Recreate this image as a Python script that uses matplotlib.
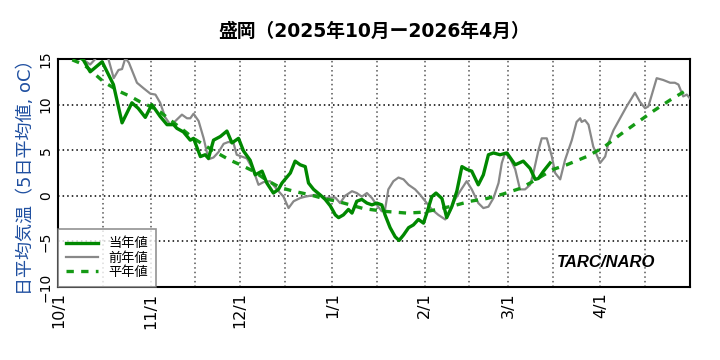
#盛岡の日平均気温(5日移動平均)の推移グラフ
#
import numpy as np
import matplotlib
matplotlib.use('Agg')
import matplotlib.pyplot as plt

plt.rcParams['font.family'] = ['DejaVu Sans', 'Noto Sans CJK JP']

#x軸は10/1からの日数
month_labels = ['10/1', '11/1', '12/1', '1/1', '2/1', '3/1', '4/1']
month_days = [0, 31, 61, 92, 123, 151, 182]
mid_days = [15, 46, 76, 107, 138, 166, 197]

#当年値(2025-2026)
cur_day = [0, 2, 4, 6, 8.4, 10.7, 14.7, 18.5, 21.4, 24.7, 26.8, 29.2, 31.4, 34.2, 36.5,
           38.7, 39.8, 42.0, 44.3, 45.4, 47.7, 49.3, 50.4, 52.1, 54.4, 56.6, 58.3, 60.5,
           62.2, 64.4, 66.1, 68.4, 70.0, 72.2, 73.9, 75.1, 77.9, 79.5, 81.2, 82.9, 84.0,
           85.7, 87.9, 89.6, 91.3, 93.0, 94.1, 95.7, 97.4, 98.6, 100.2, 101.9, 103.6, 105.3,
           106.9, 108.6, 109.7, 111.4, 113.1, 114.4, 115.9, 117.6, 119.2, 120.9, 122.6,
           123.7, 125.4, 126.8, 128.8, 130.4, 132.1, 133.8, 135.5, 137.1, 138.8, 141.0,
           142.7, 144.4, 146.1, 148.3, 150.6, 153.4, 156.1, 158.4, 160.1, 161.2, 162.9, 165.1]
cur_val = [17.0, 16.5, 16.0, 15.5, 14.9, 13.6, 14.7, 12.2, 8.0, 10.2, 9.6, 8.6, 10.0, 8.7, 7.8,
           7.8, 7.4, 7.0, 6.1, 6.3, 4.3, 4.5, 4.1, 6.1, 6.5, 7.1, 5.8, 6.3,
           4.9, 3.9, 2.3, 2.7, 1.4, 0.3, 0.7, 1.4, 2.5, 3.8, 3.4, 3.2, 1.4,
           0.7, 0.1, -0.4, -1.1, -2.1, -2.4, -2.1, -1.5, -1.9, -0.6, -0.4, -0.8, -1.0,
           -0.8, -1.0, -2.1, -3.5, -4.5, -4.9, -4.3, -3.5, -3.2, -2.6, -3.0,
           -1.9, -0.1, 0.3, -0.3, -2.4, -1.2, 0.5, 3.2, 2.9, 2.7, 1.2,
           2.3, 4.5, 4.7, 4.5, 4.7, 3.4, 3.8, 3.0, 1.8, 1.9, 2.7, 3.6]

#前年値(2024-2025)
prev_day = [0, 6.7, 8.5, 10.7, 12.4, 14.1, 16.4, 18.6, 20.2, 21.4, 22.5, 23.7, 26.4, 28.6,
            30.9, 32.6, 34.2, 35.9, 37.6, 39.3, 41.5, 43.2, 44.3, 45.4, 47.1, 48.8, 50.4,
            52.1, 53.8, 55.5, 57.1, 58.8, 59.9, 61.6, 63.3, 65.5, 67.2, 68.9, 71.1, 73.4,
            75.6, 77.3, 79.0, 81.2, 82.9, 86.2, 87.9, 89.6, 91.3, 93.0, 94.6, 96.3, 98.6,
            100.2, 101.9, 103.6, 105.3, 106.9, 108.6, 109.7, 110.8, 112.5, 114.2, 115.9,
            117.6, 119.8, 121.5, 123.2, 125.4, 127.6, 129.9, 131.5, 133.2, 134.9, 137.1,
            138.8, 141.0, 142.7, 144.4, 146.1, 147.8, 148.9, 150.0, 151.7, 153.4, 155.0,
            156.7, 158.4, 159.5, 161.2, 162.3, 164.0, 165.7, 166.8, 168.5, 170.1, 172.4,
            174.0, 175.2, 175.7, 176.8, 178.0, 179.6, 181.9, 183.6, 184.7, 186.4, 188.6,
            190.8, 193.6, 195.3, 197.0, 198.1, 200.9, 203.1, 205.4, 207.0, 208.2, 209.8,
            211.0, 212.0]
prev_val = [16.5, 15.2, 14.9, 14.4, 15.0, 16.0, 15.5, 12.9, 13.8, 13.9, 15.1, 14.6, 12.4, 11.8,
            11.2, 11.1, 10.2, 8.6, 7.8, 8.2, 8.9, 8.5, 8.5, 9.0, 8.2, 6.3, 4.0,
            4.2, 4.8, 5.7, 5.9, 5.8, 4.5, 4.3, 4.1, 2.8, 1.2, 1.5, 1.6, 0.7,
            -0.1, -1.35, -0.6, -0.25, -0.1, 0.1, 0.1, -0.25, -0.2, -0.2, -0.8, 0.0, 0.5,
            0.3, -0.1, 0.3, -0.25, -1.0, -1.7, -1.5, 0.7, 1.6, 2.0, 1.8,
            1.2, 0.7, 0.1, -0.6, -1.5, -2.1, -2.6, -1.7, -0.4, 0.5, 1.6,
            0.7, -0.8, -1.35, -1.2, -0.25, 1.4, 3.6, 4.7, 4.1, 2.9, 0.7,
            0.7, 1.2, 2.5, 5.0, 6.3, 6.3, 4.3, 2.5, 1.8, 3.9, 6.1,
            8.1, 8.5, 8.1, 8.3, 7.8, 5.4, 3.6, 4.3, 5.8, 7.2, 8.5,
            9.8, 11.3, 10.3, 9.6, 9.8, 12.9, 12.7, 12.4, 12.4, 12.2, 10.9,
            11.1, 10.7]

#平年値
norm_day = [0, 4.0, 8.5, 10.7, 15.2, 20.8, 24.2, 27.5, 30.9, 34.2, 37.6, 42.0, 45.4, 48.8,
            53.3, 57.7, 61.1, 65.5, 70.0, 74.5, 79.0, 84.6, 89.0, 93.5, 96.9, 102.4, 109.2,
            117.0, 122.6, 127.1, 132.7, 138.3, 143.9, 149.4, 155.0, 158.4, 166.2, 170.7,
            177.4, 183.0, 188.6, 194.2, 199.8, 205.4, 212.0]
norm_val = [15.4, 15.0, 14.4, 13.8, 12.5, 11.4, 10.9, 10.3, 9.8, 9.2, 8.3, 7.2, 6.3, 5.6,
            4.7, 3.9, 3.4, 2.7, 1.7, 0.9, 0.5, 0.1, -0.3, -0.6, -0.9, -1.4, -1.7,
            -1.9, -1.8, -1.5, -1.1, -0.6, -0.3, 0.2, 0.8, 1.4, 2.9, 3.4,
            4.3, 5.3, 6.7, 8.0, 9.3, 10.5, 11.8]

fig = plt.figure(figsize=(7.2, 3.6), dpi=100)
ax = fig.add_axes([0.081, 0.203, 0.877, 0.633])

ax.plot(cur_day, cur_val, color='#008800', lw=2.4, label='当年値', zorder=4)
ax.plot(prev_day, prev_val, color='#888888', lw=1.6, label='前年値', zorder=3)
ax.plot(norm_day, norm_val, color='#159a15', lw=2.4, ls=(0, (2.2, 2.2)), label='平年値', zorder=3)

ax.set_xlim(0, 212)
ax.set_ylim(-10, 15)
ax.set_yticks([-10, -5, 0, 5, 10, 15])
ax.set_xticks(month_days)
ax.set_xticklabels(month_labels, rotation=90, fontsize=11.5)
ax.set_xticks(mid_days, minor=True)
for lab in ax.get_yticklabels():
    lab.set_rotation(90)
    lab.set_va('center')
    lab.set_fontsize(10)
ax.tick_params(axis='both', which='both', length=0, pad=4)

#グリッド(点線)
ax.grid(True, which='both', axis='x', color='#555555', ls=(0, (1, 2)), lw=1.1)
ax.grid(True, which='major', axis='y', color='black', ls=(0, (1, 2)), lw=1.1)
for s in ax.spines.values():
    s.set_linewidth(1.5)

ax.set_title('盛岡（2025年10月ー2026年4月）', fontsize=13.5, fontweight='bold', pad=16)
ax.set_ylabel('日平均気温（5日平均値, oC）', color='#1f4fa0', fontsize=13, labelpad=3)

leg = ax.legend(loc='lower left', fontsize=9.5, frameon=True, fancybox=False,
                borderaxespad=0, handlelength=2.4, labelspacing=0.1, borderpad=0.6)
leg.get_frame().set_edgecolor('#777777')
leg.get_frame().set_linewidth(1.2)

ax.text(0.868, 0.105, 'TARC/NARO', transform=ax.transAxes, ha='center', va='center',
        fontsize=12, fontweight='bold', style='italic', family='Liberation Sans')

plt.savefig('out.png', dpi=100)
